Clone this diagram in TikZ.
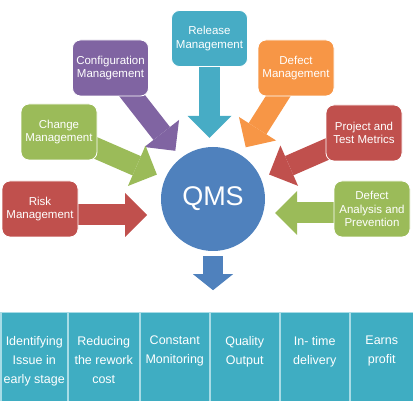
\documentclass[tikz,border=0pt]{standalone}
\usepackage{fontspec}
\setmainfont{Liberation Sans}
\usetikzlibrary{arrows.meta, backgrounds}

\definecolor{relteal}{HTML}{47ACC5}
\definecolor{barteal}{HTML}{3FADC2}
\definecolor{celledge}{HTML}{A8DCE6}
\definecolor{cfgpurple}{HTML}{8064A2}
\definecolor{defmorange}{HTML}{F79646}
\definecolor{chggreen}{HTML}{9BBB59}
\definecolor{riskred}{HTML}{C0504D}
\definecolor{qmsblue}{HTML}{4F81BD}

\begin{document}
\begin{tikzpicture}[
    x=1pt, y=-1pt,
    box/.style={rectangle, rounded corners=8pt, fill=#1, draw=white, line width=0.8pt, minimum width=76pt, minimum height=56pt, inner sep=2pt, align=center, text=white, font=\fontsize{11.5}{13.5}\selectfont},
    hub/.style={circle, fill=qmsblue, minimum size=104pt, inner sep=0pt, text=white, font=\fontsize{27}{30}\selectfont},
    feed/.style={line width=21pt, draw=#1, -{Triangle[width=44pt, length=22pt, line width=0pt]}, shorten >=9pt},
    cell/.style={rectangle, fill=barteal, draw=celledge, line width=1.5pt, minimum height=89pt, anchor=north west, inner sep=0pt},
    celltext/.style={anchor=north, align=center, inner sep=0pt, text=white, font=\fontsize{12.5}{19}\selectfont}
]
\useasboundingbox (0,0) rectangle (413,401);

% centre
\node[hub] (qms) at (213,199) {QMS};

% input boxes
\node[box=relteal] (release) at (209.5,38.5) {Release\\Management};
\node[box=cfgpurple] (config) at (110.5,68) {Configuration\\Management};
\node[box=defmorange] (defect) at (296,68) {Defect\\Management};
\node[box=chggreen] (change) at (59,132) {Change\\Management};
\node[box=riskred] (metrics) at (364,133) {Project and\\Test Metrics};
\node[box=riskred] (risk) at (40,209) {Risk\\Management};
\node[box=chggreen] (analysis) at (372,209) {Defect\\Analysis and\\Prevention};

\coordinate (riskin) at (147,215);
\coordinate (analysisin) at (275,213);
\coordinate (result) at ([yshift=-39pt]qms.south);

% output bar
\foreach \x/\w/\txt [count=\i] in {0/67/{Identifying\\Issue in\\early stage}, 67/72/{Reducing\\the rework\\cost}, 139/70/{Constant\\Monitoring}, 209/70/{Quality\\Output}, 279/70/{In- time\\delivery}, 349/64/{Earns\\profit}}{
    \node[cell, minimum width=\w pt] (cell\i) at (\x,312) {};
    \node[celltext] (gain\i) at ([yshift=-24pt]cell\i.north) {\txt};
}

% block arrows
\begin{scope}[on background layer]
    \draw[feed=relteal] (release.center) -- (release |- qms.north);
    \draw[feed=cfgpurple] (config.center) -- (qms);
    \draw[feed=defmorange] (defect.center) -- (qms);
    \draw[feed=chggreen] (change.center) -- (qms);
    \draw[feed=riskred] (metrics.center) -- (qms);
    \draw[feed=riskred, shorten >=0pt] (risk.center |- riskin) -- (riskin);
    \draw[feed=chggreen, shorten >=0pt] (analysis.center |- analysisin) -- (analysisin);
    \draw[line width=20pt, draw=qmsblue, -{Triangle[width=40pt, length=16pt, line width=0pt]}] ([yshift=-5pt]qms.south) -- (result);
\end{scope}

\end{tikzpicture}
\end{document}
